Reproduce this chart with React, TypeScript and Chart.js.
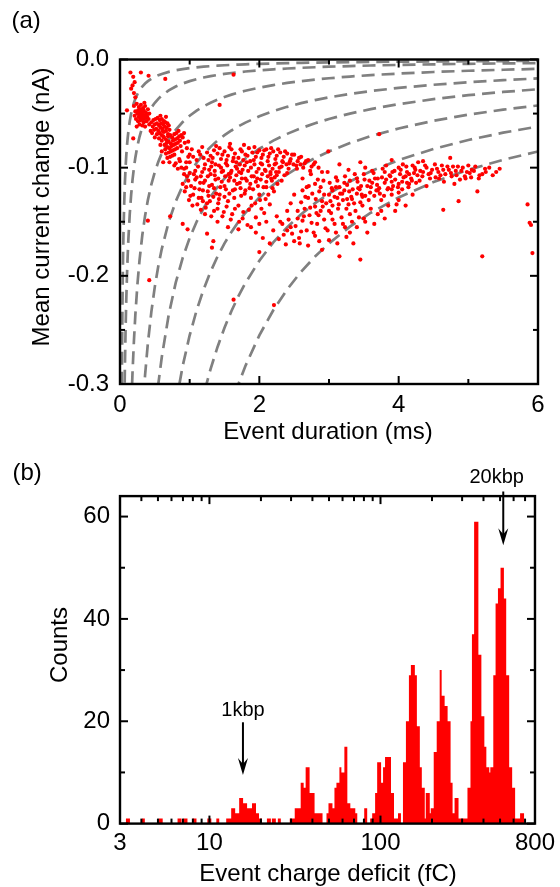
import React, { useEffect, useRef } from "react";
import { Chart, registerables } from "chart.js";

Chart.register(...registerables);

const FONT_FAMILY = "'Liberation Sans', Arial, Helvetica, sans-serif";

// ---------------- Panel (a): event scatter ----------------
const durationTicks = [0, 2, 4, 6];
const durationMinorTicks = [1, 3, 5];
const currentTicks = [0, -0.1, -0.2, -0.3];
const currentMinorTicks = [-0.05, -0.15, -0.25];
// iso-charge guide lines (fC): mean current = -charge / duration
const contourChargesFC = [8, 20, 52, 105, 165, 255, 372, 510];
const contourDurationsMs = [
  0.01, 0.012, 0.014, 0.016, 0.018, 0.02, 0.023, 0.026, 0.03, 0.035, 0.04, 0.045, 0.05, 0.06, 0.07,
  0.08, 0.09, 0.1, 0.11, 0.12, 0.14, 0.16, 0.18, 0.2, 0.22, 0.25, 0.28, 0.32, 0.36, 0.4, 0.45, 0.5,
  0.55, 0.6, 0.7, 0.8, 0.9, 1, 1.1, 1.2, 1.3, 1.4, 1.5, 1.6, 1.7, 1.8, 2, 2.2, 2.4, 2.6, 2.8, 3,
  3.3, 3.6, 4, 4.5, 5, 5.5, 6,
];

const eventsSparse = [
  [0.19, -0.016], [0.21, -0.021], [0.16, -0.027], [0.2, -0.031], [0.22, -0.035], [0.41, -0.015],
  [0.65, -0.018], [1.63, -0.014], [1.43, -0.042], [0.15, -0.012], [0.3, -0.012], [0.18, -0.024],
];
const events1kbp = [
  [0.10, -0.047], [0.20, -0.043], [0.24, -0.041], [0.27, -0.044], [0.30, -0.042], [0.33, -0.045],
  [0.36, -0.043], [0.26, -0.047], [0.29, -0.046], [0.31, -0.048], [0.34, -0.047], [0.37, -0.049],
  [0.40, -0.046], [0.25, -0.050], [0.28, -0.049], [0.30, -0.051], [0.32, -0.050], [0.35, -0.052],
  [0.38, -0.051], [0.27, -0.053], [0.29, -0.054], [0.31, -0.053], [0.33, -0.055], [0.36, -0.054],
  [0.39, -0.053], [0.42, -0.050], [0.23, -0.055], [0.26, -0.057], [0.30, -0.056], [0.34, -0.058],
  [0.28, -0.060], [0.32, -0.061], [0.22, -0.048], [0.19, -0.073], [0.36, -0.062], [0.24, -0.062],
  [0.21, -0.052], [0.38, -0.057], [0.41, -0.055], [0.35, -0.040],
];
const eventsBand2 = [
  [0.42, -0.060], [0.45, -0.058], [0.48, -0.056], [0.51, -0.055], [0.54, -0.054], [0.57, -0.056],
  [0.60, -0.055], [0.63, -0.057], [0.47, -0.062], [0.50, -0.060], [0.53, -0.059], [0.56, -0.061],
  [0.59, -0.059], [0.62, -0.060], [0.65, -0.058], [0.68, -0.059], [0.49, -0.065], [0.52, -0.064],
  [0.55, -0.066], [0.58, -0.063], [0.61, -0.064], [0.64, -0.062], [0.67, -0.063], [0.70, -0.061],
  [0.46, -0.068], [0.53, -0.069], [0.57, -0.068], [0.60, -0.070], [0.63, -0.067], [0.66, -0.066],
  [0.71, -0.065], [0.50, -0.072], [0.56, -0.073], [0.62, -0.071], [0.44, -0.066], [0.69, -0.069],
  [0.58, -0.052], [0.66, -0.053],
];
const eventsBand3 = [
  [0.60, -0.075], [0.63, -0.072], [0.66, -0.074], [0.69, -0.071], [0.72, -0.070], [0.75, -0.072],
  [0.78, -0.069], [0.81, -0.068], [0.84, -0.066], [0.64, -0.079], [0.67, -0.077], [0.70, -0.076],
  [0.73, -0.078], [0.76, -0.075], [0.79, -0.074], [0.82, -0.073], [0.85, -0.071], [0.88, -0.070],
  [0.65, -0.083], [0.68, -0.081], [0.71, -0.082], [0.74, -0.080], [0.77, -0.079], [0.80, -0.078],
  [0.83, -0.077], [0.86, -0.075], [0.90, -0.072], [0.66, -0.087], [0.70, -0.086], [0.73, -0.085],
  [0.76, -0.084], [0.79, -0.083], [0.82, -0.082], [0.87, -0.080], [0.68, -0.091], [0.72, -0.090],
  [0.75, -0.089], [0.78, -0.088], [0.62, -0.095], [0.71, -0.095], [0.93, -0.077], [0.89, -0.085],
  [0.61, -0.066], [0.92, -0.068], [0.96, -0.082], [0.98, -0.090], [0.85, -0.092], [0.80, -0.096],
  [0.95, -0.095], [1.00, -0.088], [0.98, -0.076], [0.86, -0.094], [0.78, -0.098], [0.83, -0.101],
  [0.92, -0.101], [0.60, -0.085], [0.58, -0.079],
];
const eventsBandUpper = [
  [1.00, -0.095], [1.05, -0.090], [1.10, -0.093], [1.15, -0.088], [1.20, -0.091], [1.25, -0.086],
  [1.30, -0.089], [1.35, -0.084], [1.40, -0.087], [1.45, -0.092], [1.50, -0.085], [1.55, -0.089],
  [1.60, -0.083], [1.65, -0.087], [1.70, -0.091], [1.75, -0.085], [1.80, -0.088], [1.85, -0.082],
  [1.90, -0.086], [1.95, -0.090], [2.00, -0.084], [2.05, -0.088], [2.10, -0.083], [2.15, -0.087],
  [2.20, -0.085], [2.25, -0.089], [2.30, -0.086], [2.35, -0.090], [2.40, -0.087], [2.45, -0.092],
  [2.50, -0.088], [2.55, -0.094], [2.60, -0.090], [2.65, -0.096], [2.70, -0.093], [2.75, -0.099],
  [2.80, -0.095], [1.12, -0.099], [1.22, -0.097], [1.32, -0.095], [1.42, -0.098], [1.52, -0.096],
  [1.62, -0.094], [1.72, -0.097], [1.82, -0.095], [1.92, -0.093], [2.02, -0.096], [2.12, -0.094],
  [2.22, -0.097], [2.32, -0.099], [2.42, -0.101], [1.08, -0.103], [1.28, -0.102], [1.48, -0.103],
  [1.68, -0.101], [1.88, -0.100], [2.08, -0.102], [2.28, -0.104], [1.38, -0.080], [1.58, -0.078],
  [1.78, -0.079], [0.95, -0.100], [1.03, -0.083], [1.13, -0.085], [1.18, -0.081], [1.27, -0.093],
  [1.33, -0.091], [1.37, -0.097], [1.43, -0.082], [1.47, -0.088], [1.53, -0.093], [1.57, -0.081],
  [1.63, -0.091], [1.67, -0.095], [1.73, -0.083], [1.77, -0.093], [1.83, -0.089], [1.87, -0.094],
  [1.93, -0.081], [1.97, -0.086], [2.03, -0.091], [2.07, -0.084], [2.13, -0.090], [2.17, -0.082],
  [2.23, -0.092], [2.27, -0.083], [2.33, -0.094], [2.37, -0.085], [2.43, -0.096], [2.47, -0.088],
  [2.53, -0.098], [2.57, -0.091], [2.63, -0.100], [2.67, -0.094], [2.73, -0.103], [2.78, -0.097],
  [2.85, -0.100], [2.90, -0.104], [1.06, -0.106], [1.18, -0.104], [1.36, -0.107], [1.56, -0.106],
  [1.74, -0.105], [1.96, -0.104], [2.16, -0.106], [2.36, -0.107],
];
const eventsMidCore = [
  [1.21, -0.101], [1.26, -0.108], [1.31, -0.099], [1.36, -0.103], [1.41, -0.110], [1.45, -0.100],
  [1.51, -0.108], [1.54, -0.098], [1.59, -0.105], [1.64, -0.112], [1.66, -0.099], [1.71, -0.104],
  [1.75, -0.110], [1.79, -0.098], [1.84, -0.103], [1.89, -0.108], [1.93, -0.097], [1.99, -0.101],
  [2.04, -0.097], [2.09, -0.103], [2.14, -0.098], [2.19, -0.101], [2.24, -0.096], [2.29, -0.100],
  [2.34, -0.095], [2.39, -0.097], [2.44, -0.094], [2.49, -0.097], [2.54, -0.101], [2.59, -0.097],
  [1.15, -0.114], [1.19, -0.131], [1.27, -0.126], [1.35, -0.119], [1.42, -0.129], [1.50, -0.117],
  [1.57, -0.124], [1.65, -0.120], [1.72, -0.114], [1.80, -0.121], [1.87, -0.115], [1.95, -0.113],
  [2.02, -0.111], [2.10, -0.118], [2.17, -0.110], [2.25, -0.107], [2.32, -0.112], [2.40, -0.105],
];
const eventsBandMiddle = [
  [0.90, -0.115], [0.93, -0.122], [0.96, -0.108], [0.99, -0.130], [1.02, -0.117], [1.05, -0.125],
  [1.08, -0.111], [1.11, -0.134], [1.14, -0.120], [1.17, -0.128], [1.20, -0.114], [1.23, -0.137],
  [1.26, -0.122], [1.29, -0.131], [1.32, -0.116], [1.35, -0.140], [1.38, -0.124], [1.41, -0.133],
  [1.44, -0.118], [1.47, -0.145], [1.50, -0.127], [1.53, -0.136], [1.56, -0.112], [1.59, -0.148],
  [1.62, -0.121], [1.65, -0.138], [1.68, -0.115], [1.71, -0.150], [1.74, -0.126], [1.77, -0.141],
  [1.80, -0.110], [1.83, -0.153], [1.86, -0.119], [1.89, -0.135], [1.92, -0.108], [1.95, -0.146],
  [1.98, -0.117], [2.01, -0.130], [2.04, -0.106], [2.07, -0.142], [2.10, -0.113], [2.13, -0.125],
  [2.16, -0.104], [2.19, -0.119], [2.22, -0.109], [2.26, -0.115], [1.00, -0.105], [1.16, -0.108],
  [1.30, -0.106], [1.46, -0.104], [1.60, -0.103], [1.76, -0.102], [1.22, -0.143], [1.40, -0.150],
  [1.55, -0.155], [1.70, -0.157], [1.88, -0.155], [2.00, -0.152], [0.42, -0.204], [1.63, -0.222],
  [2.21, -0.227], [1.25, -0.161], [1.34, -0.168], [1.32, -0.174], [2.0, -0.178], [0.72, -0.145],
  [0.40, -0.149], [0.90, -0.152], [0.97, -0.157], [0.88, -0.100], [0.92, -0.106], [0.95, -0.118],
  [0.98, -0.112], [1.01, -0.126], [1.04, -0.135], [1.07, -0.119], [1.10, -0.109], [1.13, -0.128],
  [1.16, -0.139], [1.19, -0.121], [1.22, -0.112], [1.25, -0.133], [1.28, -0.117], [1.31, -0.145],
  [1.34, -0.127], [1.37, -0.111], [1.40, -0.138], [1.43, -0.125], [1.46, -0.113], [1.49, -0.141],
  [1.52, -0.120], [1.55, -0.131], [1.58, -0.109], [1.61, -0.143], [1.64, -0.128], [1.67, -0.107],
  [1.70, -0.135], [1.73, -0.119], [1.76, -0.147], [1.79, -0.124], [1.82, -0.112], [1.85, -0.139],
  [1.88, -0.128], [1.91, -0.120], [1.94, -0.133], [1.97, -0.110], [2.00, -0.125], [2.03, -0.138],
  [2.06, -0.118], [2.09, -0.129], [2.12, -0.108], [2.15, -0.134], [2.18, -0.112], [2.21, -0.122],
  [2.24, -0.104],
];
const eventsBandLong = [
  [2.30, -0.150], [2.35, -0.162], [2.40, -0.140], [2.45, -0.155], [2.50, -0.168], [2.55, -0.147],
  [2.60, -0.159], [2.65, -0.138], [2.70, -0.172], [2.75, -0.151], [2.80, -0.163], [2.85, -0.144],
  [2.90, -0.176], [2.95, -0.156], [3.00, -0.167], [3.05, -0.148], [3.10, -0.160], [3.15, -0.182],
  [3.20, -0.152], [3.25, -0.164], [3.30, -0.143], [3.35, -0.170], [3.40, -0.155], [3.45, -0.185],
  [3.50, -0.147], [3.55, -0.160], [3.60, -0.138], [3.65, -0.152], [3.70, -0.143], [3.75, -0.130],
  [3.80, -0.147], [3.85, -0.135], [3.90, -0.125], [3.95, -0.140], [4.00, -0.130], [4.05, -0.120],
  [4.10, -0.135], [4.15, -0.115], [4.20, -0.125], [3.00, -0.125], [3.10, -0.118], [3.20, -0.130],
  [3.30, -0.112], [3.40, -0.124], [3.50, -0.106], [3.60, -0.118], [3.70, -0.110], [3.80, -0.104],
  [3.90, -0.113], [4.00, -0.100], [4.10, -0.108], [4.20, -0.098], [4.30, -0.112], [3.05, -0.135],
  [3.25, -0.138], [3.45, -0.132], [3.65, -0.126], [3.85, -0.119], [4.05, -0.113], [4.35, -0.104],
  [4.45, -0.110], [4.55, -0.101], [4.65, -0.113], [4.75, -0.105], [4.85, -0.099], [4.95, -0.108],
  [5.05, -0.102], [5.15, -0.110], [5.25, -0.104], [5.35, -0.107], [5.45, -0.101], [4.40, -0.117],
  [4.60, -0.107], [4.80, -0.115], [5.00, -0.098], [4.64, -0.139], [4.86, -0.131], [5.2, -0.182],
  [5.85, -0.134], [5.88, -0.151], [5.9, -0.153], [5.92, -0.179], [4.74, -0.091], [5.13, -0.122],
  [3.72, -0.069], [2.99, -0.085], [1.95, -0.160], [2.05, -0.165], [2.10, -0.150], [2.15, -0.170],
  [2.20, -0.158], [2.25, -0.145], [2.28, -0.166], [2.33, -0.152], [2.38, -0.171], [2.42, -0.148],
  [2.47, -0.161], [2.52, -0.154], [2.57, -0.165], [2.62, -0.149], [2.68, -0.158], [2.72, -0.144],
  [2.78, -0.160], [2.83, -0.152], [2.88, -0.140], [2.93, -0.148], [2.98, -0.158], [3.03, -0.142],
  [3.08, -0.152], [3.13, -0.138], [3.18, -0.146], [3.23, -0.155], [3.28, -0.134], [3.33, -0.150],
  [3.38, -0.140], [3.43, -0.146], [3.48, -0.135], [2.62, -0.110], [2.68, -0.118], [2.74, -0.106],
  [2.80, -0.115], [2.86, -0.122], [2.92, -0.112], [2.98, -0.104], [3.04, -0.119], [3.10, -0.109],
  [3.16, -0.124], [3.22, -0.114], [3.28, -0.102], [3.34, -0.120], [3.40, -0.110], [3.46, -0.117],
  [3.52, -0.100], [3.58, -0.112], [3.64, -0.105], [3.70, -0.121], [3.76, -0.109], [3.82, -0.098],
  [3.88, -0.108], [3.94, -0.103], [4.00, -0.115], [4.06, -0.097], [4.12, -0.104], [4.18, -0.110],
  [4.24, -0.102], [4.28, -0.095], [4.34, -0.108], [4.40, -0.100], [4.46, -0.105], [4.52, -0.097],
  [4.58, -0.110], [4.64, -0.102], [4.70, -0.099], [4.76, -0.108], [4.82, -0.103], [4.88, -0.111],
  [4.92, -0.100], [4.98, -0.104], [5.04, -0.109], [5.10, -0.099], [5.20, -0.106], [5.30, -0.100],
  [5.40, -0.104], [3.15, -0.097], [3.45, -0.095], [3.90, -0.093], [4.35, -0.094], [2.50, -0.125],
  [2.60, -0.132], [2.70, -0.128], [2.80, -0.136], [2.90, -0.131], [3.00, -0.140], [3.12, -0.128],
  [3.22, -0.121], [3.32, -0.127], [3.42, -0.119], [3.52, -0.126], [3.62, -0.114], [3.72, -0.119],
  [3.82, -0.111], [3.92, -0.117], [4.02, -0.106], [4.12, -0.114], [4.22, -0.105],
];
const eventsLongCore = [
  [2.62, -0.121], [2.66, -0.127], [2.71, -0.117], [2.76, -0.124], [2.81, -0.129], [2.84, -0.111],
  [2.88, -0.118], [2.93, -0.125], [2.96, -0.133], [3.01, -0.114], [3.05, -0.121], [3.08, -0.127],
  [3.12, -0.112], [3.15, -0.118], [3.19, -0.124], [3.23, -0.108], [3.26, -0.116], [3.29, -0.122],
  [3.33, -0.129], [3.37, -0.106], [3.41, -0.113], [3.44, -0.120], [3.48, -0.127], [3.51, -0.111],
  [3.55, -0.117], [3.59, -0.123], [3.62, -0.103], [3.66, -0.110], [3.69, -0.116], [3.73, -0.124],
  [3.77, -0.101], [3.80, -0.114], [3.84, -0.120], [3.87, -0.107], [3.91, -0.104], [3.95, -0.111],
  [3.99, -0.118], [4.03, -0.102], [4.07, -0.109], [4.11, -0.099], [4.15, -0.106], [4.19, -0.112],
  [4.23, -0.100], [4.27, -0.107], [4.31, -0.103], [4.38, -0.098], [4.43, -0.106], [4.48, -0.102],
  [4.53, -0.109], [4.57, -0.104], [4.62, -0.098], [4.67, -0.106], [4.72, -0.102], [4.78, -0.099],
  [4.83, -0.107], [4.90, -0.103], [4.96, -0.110], [5.02, -0.105], [5.08, -0.103], [5.16, -0.107],
  [5.24, -0.101], [2.55, -0.140], [2.64, -0.145], [2.73, -0.137], [2.82, -0.142], [2.91, -0.136],
  [3.02, -0.131], [3.14, -0.134], [3.26, -0.129], [3.36, -0.133], [3.47, -0.125], [3.57, -0.130],
  [3.68, -0.121], [3.79, -0.126], [3.90, -0.120], [4.00, -0.123], [4.14, -0.118], [4.25, -0.114],
  [2.45, -0.133], [2.40, -0.158], [2.58, -0.170], [2.86, -0.168], [3.12, -0.170], [3.30, -0.160],
  [3.52, -0.150], [3.75, -0.140], [3.97, -0.134],
];

// ---------------- Panel (b): charge deficit histogram ----------------
const chargeTicks = [3, 10, 100, 800];
const chargeMinorTicks = [4, 5, 6, 7, 8, 9, 20, 30, 40, 50, 60, 70, 80, 90, 200, 300, 400, 500, 600, 700];
const countTicks = [0, 20, 40, 60];
const countMinorTicks = [10, 30, 50];
// left edge of each histogram bar (fC) and its count (bar extends to the next edge)
const histBinEdgesFC = [
  3, 3.25, 3.43, 4.03, 4.19, 5.05, 5.33, 6.51, 6.87, 7.05, 7.44, 7.96, 8.4, 9.72, 10.26, 10.97, 11.41,
  12.53, 13.4, 14.14, 14.92, 15.73, 16.6, 17.74, 18.72, 19.48, 20.28, 21.68, 22.87, 23.18, 24.45,
  25.11, 26.14, 29.49, 31.52, 34.15, 35.55, 36.51, 38.51, 41.17, 45.83, 48.34, 49.65, 52.38, 53.8,
  55.25, 57.51, 59.07, 61.49, 64.0, 66.62, 71.23, 73.15, 80.31, 83.6, 87.0, 89.4, 93.0, 95.6, 100.8,
  103.5, 106.3, 115.2, 119.9, 126.6, 131.7, 135.3, 140.8, 146.6, 150.5, 158.8, 163.2, 169.8, 174.4,
  181.5, 183.9, 194.1, 196.7, 204.7, 213.1, 221.8, 227.8, 237.1, 246.8, 256.9, 263.9, 271.0, 285.9,
  322.4, 335.7, 342.4, 352.6, 373.5, 388.8, 404.7, 415.7, 432.6, 438.5, 456.4, 470.7, 486.0, 503.2,
  526.6, 543.1, 565.3, 588.4, 612.4, 654.6, 690.6,
];
const histCounts = [
  0, 1, 0, 1, 0, 1, 0, 1, 0, 1, 0, 1, 0, 1, 0, 1, 0,
  1, 3, 2, 5, 4, 3, 4, 2, 1, 0, 1, 0, 1, 0,
  1, 0, 1, 3, 8, 7, 11, 6, 2, 0, 2, 4, 3, 7,
  8, 11, 10, 15, 4, 3, 2, 0, 3, 0, 1, 2, 6, 12, 8,
  11, 13, 6, 1, 2, 0, 12, 20, 29, 31, 29, 19, 11, 7,
  1, 6, 2, 3, 14, 20, 30, 25, 23, 20, 8, 2, 5, 1,
  7, 20, 37, 59, 33, 21, 15, 11, 10, 11, 29, 43, 46, 50,
  44, 29, 11, 7, 1, 2, 0,
];
const annotations = [
  { text: "1kbp", xFC: 15.7, tailCount: 19.8, tipCount: 9.5, labelXFC: 15.7, labelCount: 21.0 },
  { text: "20kbp", xFC: 522, tailCount: 64.9, tipCount: 54.4, labelXFC: 478, labelCount: 66.6 },
];

// ---------------- shared drawing helpers ----------------
const framePlugin = {
  id: "axesFrame",
  afterDraw(chart: any, _args: any, o: any) {
    const { ctx, chartArea: a } = chart;
    const xs = chart.scales.x;
    const ys = chart.scales.y;
    ctx.save();
    ctx.strokeStyle = "#000";
    ctx.lineCap = "butt";
    ctx.lineWidth = 2;
    const seg = (x1: number, y1: number, x2: number, y2: number) => {
      ctx.beginPath();
      ctx.moveTo(x1, y1);
      ctx.lineTo(x2, y2);
      ctx.stroke();
    };
    const xt = (vals: number[], len: number) =>
      vals.forEach((v) => {
        const p = xs.getPixelForValue(v);
        seg(p, a.bottom, p, a.bottom - len);
        seg(p, a.top, p, a.top + len);
      });
    const yt = (vals: number[], len: number) =>
      vals.forEach((v) => {
        const p = ys.getPixelForValue(v);
        seg(a.left, p, a.left + len, p);
        seg(a.right, p, a.right - len, p);
      });
    xt(o.xMajor, 8);
    xt(o.xMinor, 5);
    yt(o.yMajor, 8);
    yt(o.yMinor, 5);
    ctx.lineWidth = 2.4;
    ctx.strokeRect(a.left, a.top, a.right - a.left, a.bottom - a.top);

    ctx.fillStyle = "#000";
    ctx.font = `24px ${FONT_FAMILY}`;
    ctx.textAlign = "center";
    ctx.textBaseline = "middle";
    ctx.fillText(o.xTitle, o.xTitlePos[0], o.xTitlePos[1]);
    ctx.save();
    ctx.translate(o.yTitlePos[0], o.yTitlePos[1]);
    ctx.rotate(-Math.PI / 2);
    ctx.fillText(o.yTitle, 0, 0);
    ctx.restore();
    ctx.textAlign = "left";
    ctx.textBaseline = "alphabetic";
    ctx.fillText(o.panel, o.panelPos[0], o.panelPos[1]);
    ctx.restore();
  },
};

// fills the area under the histogram outline, using the pixel positions Chart.js computed for it
const histFillPlugin = {
  id: "histFill",
  beforeDatasetsDraw(chart: any, _args: any, o: any) {
    const meta = chart.getDatasetMeta(0);
    const pts = meta.data;
    if (!pts || !pts.length) return;
    const { ctx, chartArea: a } = chart;
    const y0 = chart.scales.y.getPixelForValue(0);
    ctx.save();
    ctx.beginPath();
    ctx.rect(a.left, a.top, a.right - a.left, a.bottom - a.top);
    ctx.clip();
    ctx.fillStyle = o.color || "#ff0000";
    ctx.beginPath();
    ctx.moveTo(pts[0].x, y0);
    for (const p of pts) ctx.lineTo(p.x, p.y);
    ctx.lineTo(pts[pts.length - 1].x, y0);
    ctx.closePath();
    ctx.fill();
    ctx.restore();
  },
};

const arrowPlugin = {
  id: "arrows",
  afterDraw(chart: any, _args: any, o: any) {
    const { ctx } = chart;
    const xs = chart.scales.x;
    const ys = chart.scales.y;
    ctx.save();
    ctx.strokeStyle = "#000";
    ctx.fillStyle = "#000";
    ctx.lineWidth = 2;
    (o.items || []).forEach((it: any) => {
      const x = xs.getPixelForValue(it.xFC);
      const y0 = ys.getPixelForValue(it.tailCount);
      const y1 = ys.getPixelForValue(it.tipCount);
      ctx.beginPath();
      ctx.moveTo(x, y0);
      ctx.lineTo(x, y1 - 8);
      ctx.stroke();
      ctx.beginPath();
      ctx.moveTo(x, y1);
      ctx.lineTo(x - 5, y1 - 17);
      ctx.lineTo(x, y1 - 11);
      ctx.lineTo(x + 5, y1 - 17);
      ctx.closePath();
      ctx.fill();
      ctx.font = `20px ${FONT_FAMILY}`;
      ctx.textAlign = "center";
      ctx.textBaseline = "alphabetic";
      ctx.fillText(it.text, xs.getPixelForValue(it.labelXFC), ys.getPixelForValue(it.labelCount));
    });
    ctx.restore();
  },
};

const fixedTicks = (vals: number[]) => (scale: any) => {
  scale.ticks = vals.map((v) => ({ value: v }));
};

const tickFont = { size: 24, family: FONT_FAMILY };

function ScatterPanel() {
  const ref = useRef<HTMLCanvasElement | null>(null);
  useEffect(() => {
    if (!ref.current) return;
    const allEvents = [
      ...eventsSparse,
      ...events1kbp,
      ...eventsBand2,
      ...eventsBand3,
      ...eventsBandUpper,
      ...eventsMidCore,
      ...eventsBandMiddle,
      ...eventsBandLong,
      ...eventsLongCore,
    ].map(([t, i]) => ({ x: t, y: i }));
    const contourSets = contourChargesFC.map((q) => ({
      type: "line" as const,
      data: contourDurationsMs.map((t) => ({ x: t, y: -(q / 1000) / t })),
      borderColor: "#808080",
      borderWidth: 2.7,
      borderDash: [13, 7],
      pointRadius: 0,
      fill: false,
      tension: 0,
      showLine: true,
    }));
    const chart = new Chart(ref.current, {
      type: "scatter",
      data: {
        datasets: [
          {
            type: "scatter" as const,
            data: allEvents,
            backgroundColor: "#ff0000",
            borderWidth: 0,
            pointRadius: 2.1,
            pointHoverRadius: 2.1,
          },
          ...contourSets,
        ] as any,
      },
      options: {
        responsive: false,
        animation: false,
        events: [],
        layout: { padding: { top: 59.5, right: 22, left: 0, bottom: 0 } },
        plugins: {
          legend: { display: false },
          tooltip: { enabled: false },
          axesFrame: {
            xMajor: durationTicks,
            xMinor: durationMinorTicks,
            yMajor: currentTicks,
            yMinor: currentMinorTicks,
            xTitle: "Event duration (ms)",
            xTitlePos: [328, 432],
            yTitle: "Mean current change (nA)",
            yTitlePos: [42, 207],
            panel: "(a)",
            panelPos: [11.5, 28],
          },
        } as any,
        scales: {
          x: {
            type: "linear",
            min: 0,
            max: 6,
            afterBuildTicks: fixedTicks(durationTicks),
            afterFit: (s: any) => {
              s.height = 66;
            },
            grid: { display: false, drawTicks: false },
            border: { display: false },
            ticks: {
              padding: 7,
              maxRotation: 0,
              autoSkip: false,
              color: "#000",
              font: tickFont,
              callback: (v: any) => String(v),
            },
          },
          y: {
            type: "linear",
            min: -0.3,
            max: 0,
            afterBuildTicks: fixedTicks(currentTicks),
            afterFit: (s: any) => {
              s.width = 120;
            },
            grid: { display: false, drawTicks: false },
            border: { display: false },
            ticks: {
              padding: 11,
              autoSkip: false,
              color: "#000",
              font: tickFont,
              callback: (v: any) => Number(v).toFixed(1),
            },
          },
        },
      } as any,
      plugins: [framePlugin],
    });
    return () => chart.destroy();
  }, []);
  return (
    <canvas
      ref={ref}
      width={560}
      height={450}
      style={{ position: "absolute", left: 0, top: 0, width: 560, height: 450 }}
    />
  );
}

function HistogramPanel() {
  const ref = useRef<HTMLCanvasElement | null>(null);
  useEffect(() => {
    if (!ref.current) return;
    // outline of the bars: each bar's top runs from its left edge to the next edge
    const outline: { x: number; y: number }[] = [];
    for (let i = 0; i < histBinEdgesFC.length - 1; i++) {
      outline.push({ x: histBinEdgesFC[i], y: histCounts[i] });
      outline.push({ x: histBinEdgesFC[i + 1], y: histCounts[i] });
    }
    const chart = new Chart(ref.current, {
      type: "line",
      data: {
        datasets: [
          {
            data: outline,
            borderWidth: 0,
            borderColor: "rgba(0,0,0,0)",
            backgroundColor: "#ff0000",
            fill: false,
            showLine: false,
            pointRadius: 0,
            tension: 0,
          },
        ] as any,
      },
      options: {
        responsive: false,
        animation: false,
        events: [],
        layout: { padding: { top: 46.1, right: 22, left: 0, bottom: 0 } },
        plugins: {
          legend: { display: false },
          tooltip: { enabled: false },
          histFill: { color: "#ff0000" },
          axesFrame: {
            xMajor: chargeTicks,
            xMinor: chargeMinorTicks,
            yMajor: countTicks,
            yMinor: countMinorTicks,
            xTitle: "Event charge deficit (fC)",
            xTitlePos: [328, 424],
            yTitle: "Counts",
            yTitlePos: [60.5, 195],
            panel: "(b)",
            panelPos: [12.5, 30],
          },
          arrows: { items: annotations },
        } as any,
        scales: {
          x: {
            type: "logarithmic",
            min: 3,
            max: 800,
            afterBuildTicks: fixedTicks(chargeTicks),
            afterFit: (s: any) => {
              s.height = 63.4;
            },
            grid: { display: false, drawTicks: false },
            border: { display: false },
            ticks: {
              padding: 5,
              maxRotation: 0,
              autoSkip: false,
              color: "#000",
              font: tickFont,
              callback: (v: any) => String(v),
            },
          },
          y: {
            type: "linear",
            min: 0,
            max: 64,
            afterBuildTicks: fixedTicks(countTicks),
            afterFit: (s: any) => {
              s.width = 120;
            },
            grid: { display: false, drawTicks: false },
            border: { display: false },
            ticks: {
              padding: 10,
              autoSkip: false,
              color: "#000",
              font: tickFont,
              callback: (v: any) => String(v),
            },
          },
        },
      } as any,
      plugins: [histFillPlugin, framePlugin, arrowPlugin],
    });
    return () => chart.destroy();
  }, []);
  return (
    <canvas
      ref={ref}
      width={560}
      height={437}
      style={{ position: "absolute", left: 0, top: 450, width: 560, height: 437 }}
    />
  );
}

export default function App() {
  return (
    <div
      style={{
        position: "absolute",
        left: 0,
        top: 0,
        width: 560,
        height: 887,
        background: "#fff",
        overflow: "hidden",
      }}
    >
      <ScatterPanel />
      <HistogramPanel />
    </div>
  );
}
